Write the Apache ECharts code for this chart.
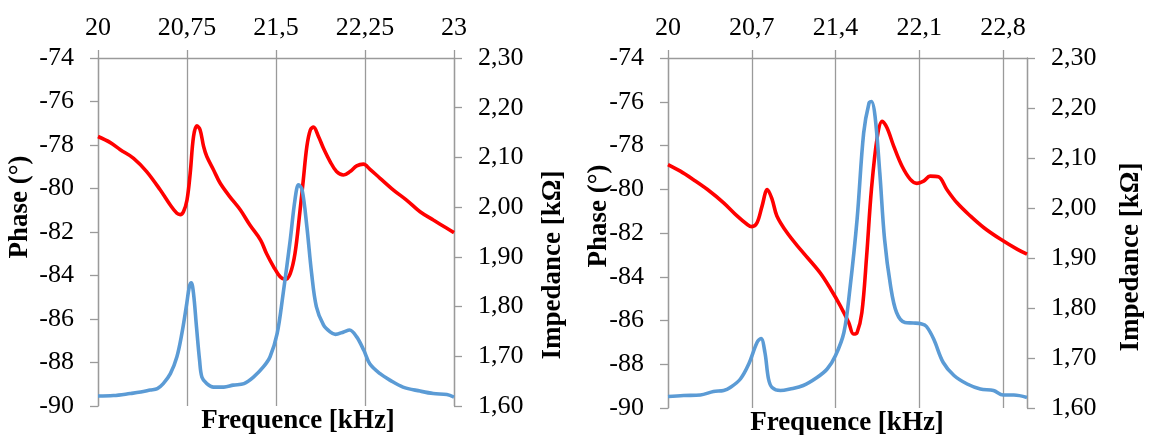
<!DOCTYPE html>
<html>
<head>
<meta charset="utf-8">
<script src="https://cdn.jsdelivr.net/npm/echarts@6/dist/echarts.min.js"></script>
<style>
  html, body { margin: 0; padding: 0; background: #fff; }
  #chart { width: 1153px; height: 435px; }
</style>
</head>
<body>
<div id="chart"></div>
<script>
// Left panel: phase (deg) and impedance (kOhm) versus frequency (kHz)
const phaseFreqA = [20, 20.104, 20.188, 20.30, 20.41, 20.525, 20.609, 20.665, 20.693, 20.72, 20.75, 20.777, 20.805, 20.833, 20.86, 20.89, 20.917, 20.974, 21.03, 21.11, 21.2, 21.28, 21.37, 21.42, 21.48, 21.535, 21.577, 21.62, 21.66, 21.70, 21.73, 21.76, 21.79, 21.816, 21.858, 21.90, 21.956, 22.01, 22.068, 22.124, 22.18, 22.237, 22.29, 22.377, 22.49, 22.60, 22.714, 22.826, 22.94, 23.0];
const phaseA = [-77.61, -77.89, -78.22, -78.61, -79.22, -80.07, -80.76, -81.14, -81.20, -81.07, -80.53, -79.30, -77.61, -77.12, -77.30, -78.07, -78.53, -79.15, -79.76, -80.37, -80.99, -81.68, -82.37, -82.99, -83.60, -84.06, -84.18, -83.91, -82.99, -81.14, -79.61, -78.07, -77.30, -77.18, -77.61, -78.15, -78.76, -79.22, -79.38, -79.22, -78.96, -78.88, -79.11, -79.53, -80.07, -80.53, -81.07, -81.45, -81.83, -82.03];
const impFreqA = [20, 20.13, 20.27, 20.36, 20.44, 20.50, 20.55, 20.61, 20.665, 20.707, 20.744, 20.77, 20.786, 20.805, 20.83, 20.856, 20.876, 20.917, 20.974, 21.06, 21.14, 21.23, 21.31, 21.395, 21.45, 21.51, 21.56, 21.62, 21.66, 21.69, 21.72, 21.76, 21.80, 21.84, 21.90, 21.956, 22.00, 22.07, 22.12, 22.18, 22.24, 22.29, 22.377, 22.46, 22.57, 22.714, 22.826, 22.94, 23.0];
const impA = [1.620, 1.621, 1.625, 1.628, 1.632, 1.635, 1.645, 1.665, 1.699, 1.746, 1.800, 1.840, 1.848, 1.826, 1.759, 1.692, 1.658, 1.645, 1.638, 1.638, 1.642, 1.645, 1.658, 1.679, 1.699, 1.746, 1.826, 1.934, 2.015, 2.045, 2.035, 1.961, 1.867, 1.800, 1.763, 1.749, 1.744, 1.749, 1.753, 1.739, 1.712, 1.685, 1.665, 1.652, 1.638, 1.630, 1.625, 1.623, 1.618];

// Right panel
const phaseFreqB = [20, 20.103, 20.21, 20.33, 20.465, 20.577, 20.66, 20.70, 20.744, 20.786, 20.83, 20.87, 20.91, 20.994, 21.106, 21.27, 21.36, 21.44, 21.51, 21.55, 21.58, 21.62, 21.66, 21.70, 21.75, 21.79, 21.83, 21.886, 21.955, 22.025, 22.08, 22.136, 22.19, 22.26, 22.33, 22.415, 22.526, 22.64, 22.78, 22.92, 23.0];
const phaseB = [-78.87, -79.17, -79.55, -80.01, -80.62, -81.22, -81.60, -81.71, -81.53, -80.77, -80.01, -80.46, -81.22, -81.98, -82.75, -83.81, -84.57, -85.33, -86.09, -86.62, -86.55, -85.64, -83.05, -80.01, -77.57, -76.89, -77.19, -78.03, -78.94, -79.55, -79.73, -79.63, -79.40, -79.43, -80.01, -80.62, -81.22, -81.76, -82.29, -82.75, -82.97];
const impFreqB = [20, 20.13, 20.27, 20.38, 20.465, 20.52, 20.605, 20.675, 20.744, 20.777, 20.81, 20.84, 20.87, 20.94, 21.02, 21.13, 21.245, 21.33, 21.40, 21.47, 21.52, 21.58, 21.635, 21.68, 21.70, 21.73, 21.77, 21.81, 21.86, 21.91, 21.98, 22.05, 22.12, 22.16, 22.22, 22.30, 22.39, 22.50, 22.61, 22.72, 22.80, 22.89, 23.0];
const impB = [1.623, 1.625, 1.626, 1.633, 1.635, 1.641, 1.658, 1.688, 1.731, 1.739, 1.711, 1.658, 1.641, 1.635, 1.638, 1.645, 1.661, 1.678, 1.705, 1.751, 1.838, 1.977, 2.150, 2.210, 2.213, 2.184, 2.070, 1.937, 1.844, 1.791, 1.771, 1.770, 1.768, 1.763, 1.738, 1.691, 1.665, 1.648, 1.638, 1.635, 1.626, 1.626, 1.621];

// Axis settings
const freqMin = 20, freqMax = 23;
const freqStepA = 0.75, freqStepB = 0.7;
const phaseMin = -90, phaseMax = -74, phaseStep = 2;
const impMin = 1.6, impMax = 2.3, impStep = 0.1;

const FONT = 'Liberation Serif';
const GRAY = '#9a9a9a';
const RED = '#ff0000';
const BLUE = '#5b9bd5';

const pair = (xs, ys) => xs.map((x, i) => [x, ys[i]]);
const comma = s => String(s).replace('.', ',');

function xAxis(gridIndex, step, showMax) {
  return {
    type: 'value', gridIndex, position: 'top',
    min: freqMin, max: freqMax, interval: step,
    axisLine: { show: true, lineStyle: { color: GRAY, width: 1.3 } },
    axisTick: { show: true, inside: false, length: 8, lineStyle: { color: GRAY, width: 1.3 } },
    splitLine: { show: true, lineStyle: { color: GRAY, width: 1.3 } },
    axisLabel: {
      margin: 17, color: '#000', fontFamily: FONT, fontSize: 26,
      showMaxLabel: showMax,
      formatter: v => comma(+v.toFixed(2))
    }
  };
}
function phaseAxis(gridIndex) {
  return {
    type: 'value', gridIndex, position: 'left',
    min: phaseMin, max: phaseMax, interval: phaseStep,
    axisLine: { show: true, lineStyle: { color: GRAY, width: 1.3 } },
    axisTick: { show: true, inside: false, length: 8, lineStyle: { color: GRAY, width: 1.3 } },
    splitLine: { show: false },
    axisLabel: { margin: 24, color: '#000', fontFamily: FONT, fontSize: 26, formatter: v => String(v) }
  };
}
function impAxis(gridIndex) {
  return {
    type: 'value', gridIndex, position: 'right',
    min: impMin, max: impMax, interval: impStep,
    axisLine: { show: true, lineStyle: { color: GRAY, width: 1.3 } },
    axisTick: { show: true, inside: false, length: 8, lineStyle: { color: GRAY, width: 1.3 } },
    splitLine: { show: false },
    axisLabel: { margin: 24, color: '#000', fontFamily: FONT, fontSize: 26, formatter: v => comma(v.toFixed(2)) }
  };
}
function line(data, xi, yi, color) {
  return {
    type: 'line', xAxisIndex: xi, yAxisIndex: yi, data,
    showSymbol: false, smooth: 0.35, animation: false,
    lineStyle: { color, width: 3.6 }, itemStyle: { color }
  };
}
function title(text, x, y, rotate) {
  return {
    type: 'text', x, y, rotation: rotate ? Math.PI / 2 : 0,
    style: {
      text, fill: '#000', font: 'bold 27px "' + FONT + '"',
      align: 'center', verticalAlign: 'middle'
    }
  };
}

const chart = echarts.init(document.getElementById('chart'), null, { renderer: 'canvas' });
chart.setOption({
  animation: false,
  backgroundColor: '#fff',
  grid: [
    { left: 98, top: 58, width: 356, height: 348 },
    { left: 668, top: 58, width: 359, height: 350 }
  ],
  xAxis: [xAxis(0, freqStepA, true), xAxis(1, freqStepB, false)],
  yAxis: [phaseAxis(0), impAxis(0), phaseAxis(1), impAxis(1)],
  series: [
    line(pair(phaseFreqA, phaseA), 0, 0, RED),
    line(pair(impFreqA, impA), 0, 1, BLUE),
    line(pair(phaseFreqB, phaseB), 1, 2, RED),
    line(pair(impFreqB, impB), 1, 3, BLUE)
  ],
  graphic: [
    title('Phase (°)', 20, 207, true),
    title('Impedance [kΩ]', 553, 265, true),
    title('Frequence [kHz]', 298, 421, false),
    title('Phase (°)', 599, 216, true),
    title('Impedance [kΩ]', 1131, 257, true),
    title('Frequence [kHz]', 847, 423, false)
  ]
});
</script>
</body>
</html>
